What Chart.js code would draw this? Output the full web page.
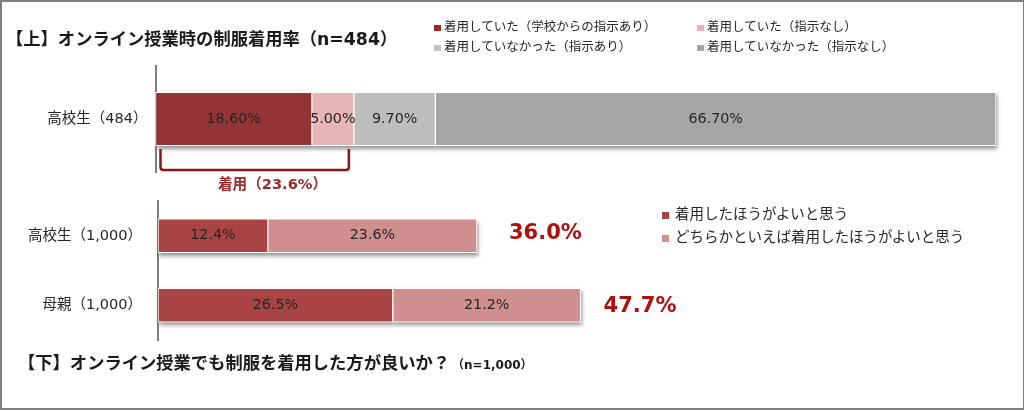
<!DOCTYPE html>
<html lang="ja"><head><meta charset="utf-8">
<script src="https://cdn.jsdelivr.net/npm/chart.js@4"></script>
<style>
html,body{margin:0;padding:0;background:#fff;overflow:hidden}
body{width:1024px;height:410px;position:relative;font-family:"DejaVu Sans","Noto Sans CJK JP",sans-serif;color:#262626}
#frame{position:absolute;left:0;top:0;width:1021px;height:406px;border:2px solid #7f7f7f;pointer-events:none}
canvas{position:absolute;left:0;top:0}
.t{position:absolute;white-space:nowrap;line-height:1;transform:translateY(-50%)}
.h{font-weight:700;font-size:17.3px;color:#1a1a1a}
.sq{position:absolute}
</style></head><body>
<canvas id="top" width="1024" height="410"></canvas>
<canvas id="bottom" width="1024" height="410"></canvas>
<div id="frame"></div>
<div class="t h" style="left:6px;top:40px">【上】オンライン授業時の制服着用率（n=484）</div>
<div class="t h" style="left:18px;top:364px">【下】オンライン授業でも制服を着用した方が良いか？<span style="font-size:12px;margin-left:2px">（n=1,000）</span></div>
<div class="t" style="left:218px;top:184px;font-size:14.6px;font-weight:700;color:#9c2a2a">着用（23.6%）</div>
<div id="legends"></div>
<script>
const topCategories = ["高校生（484）"];
const topSeriesNames = ["着用していた（学校からの指示あり）","着用していた（指示なし）","着用していなかった（指示あり）","着用していなかった（指示なし）"];
const topInstructed = [18.6];
const topNotInstructed = [5.0];
const topNotWornInstructed = [9.7];
const topNotWornNotInstructed = [66.7];
const topColors = ["#933535","#e6b5b5","#bdbdbd","#a5a5a5"];
const topLegendColors = ["#a02828","#ecb4b8","#c4c4c4","#a5a5a5"];

const bottomCategories = ["高校生（1,000）","母親（1,000）"];
const bottomSeriesNames = ["着用したほうがよいと思う","どちらかといえば着用したほうがよいと思う"];
const bottomShould = [12.4,26.5];
const bottomRather = [23.6,21.2];
const bottomTotals = ["36.0%","47.7%"];
const bottomColors = ["#a84444","#d08f8f"];

const FONT = '"DejaVu Sans","Noto Sans CJK JP",sans-serif';

const shadowPlugin = {
  id:'shadowPass',
  beforeDatasetsDraw(chart){
    const c = chart.ctx;
    chart.getSortedVisibleDatasetMetas().forEach(m=>m.data.forEach(el=>{
      const p = el.getProps(['x','y','base','height'],true);
      c.save();
      c.shadowColor='rgba(60,60,60,.55)';c.shadowBlur=4;c.shadowOffsetX=1;c.shadowOffsetY=3;
      c.fillStyle='#fff';
      c.fillRect(p.base,p.y-p.height/2,p.x-p.base,p.height);
      c.restore();
    }));
  }
};
const valueLabelPlugin = {
  id:'valueLabels',
  afterDatasetsDraw(chart,args,opts){
    const c = chart.ctx;
    c.save();
    c.font='14.3px '+FONT;c.fillStyle='#262626';c.textAlign='center';c.textBaseline='middle';
    chart.data.datasets.forEach((ds,i)=>{
      chart.getDatasetMeta(i).data.forEach((el,j)=>{
        const p = el.getProps(['x','y','base'],true);
        c.fillText(ds.data[j].toFixed(opts.decimals)+'%',(p.x+p.base)/2,p.y);
      });
    });
    c.restore();
  }
};
const totalsPlugin = {
  id:'totals',
  afterDatasetsDraw(chart,args,opts){
    if(!opts.labels) return;
    const c = chart.ctx, last = chart.getDatasetMeta(chart.data.datasets.length-1);
    c.save();
    c.font='bold 21px '+FONT;c.fillStyle='#b00f0f';c.textAlign='left';c.textBaseline='middle';
    last.data.forEach((el,j)=>c.fillText(opts.labels[j],el.x+opts.gaps[j],el.y+opts.dy[j]));
    c.restore();
  }
};
const bracketPlugin = {
  id:'bracket',
  afterDatasetsDraw(chart,args,opts){
    if(!opts.to) return;
    const c = chart.ctx, s = chart.scales.x;
    const x0 = s.getPixelForValue(0)+5, x1 = s.getPixelForValue(opts.to)-5;
    const y0 = 149, y1 = 170, r = 3;
    c.save();
    c.strokeStyle='#8e1414';c.lineWidth=2.5;
    c.beginPath();c.moveTo(x0,y0);c.lineTo(x0,y1-r);c.quadraticCurveTo(x0,y1,x0+r,y1);
    c.lineTo(x1-r,y1);c.quadraticCurveTo(x1,y1,x1,y1-r);c.lineTo(x1,y0);c.stroke();
    c.restore();
  }
};

function makeChart(id,cats,sets,names,colors,thick,xMax,pad,axisW,tickPad,decimals,extra){
  return new Chart(document.getElementById(id),{
    type:'bar',
    data:{labels:cats,datasets:sets.map((d,i)=>({label:names[i],data:d,backgroundColor:colors[i],borderColor:'#fff',borderWidth:1,borderSkipped:false,barThickness:thick}))},
    plugins:[shadowPlugin,valueLabelPlugin,totalsPlugin,bracketPlugin],
    options:{
      indexAxis:'y',responsive:false,animation:false,devicePixelRatio:1,
      layout:{padding:pad},
      scales:{
        x:{display:false,stacked:true,min:0,max:xMax},
        y:{stacked:true,grid:{display:false,drawTicks:false},
           border:{display:true,color:'#7f7f7f',width:2},
           ticks:{color:'#262626',font:{family:FONT,size:14.5},padding:tickPad},
           afterFit(s){s.width=axisW;}}
      },
      plugins:Object.assign({legend:{display:false},tooltip:{enabled:false},valueLabels:{decimals}},extra)
    }
  });
}
makeChart('top',topCategories,[topInstructed,topNotInstructed,topNotWornInstructed,topNotWornNotInstructed],topSeriesNames,topColors,53.5,100,
  {left:0,top:66,right:28,bottom:238},155.5,8,2,{bracket:{to:23.6}});
makeChart('bottom',bottomCategories,[bottomShould,bottomRather],bottomSeriesNames,bottomColors,34,90,
  {left:0,top:201,right:68.6,bottom:70},158,16,1,{totals:{labels:bottomTotals,gaps:[32,23],dy:[-2.5,1]}});

function legendItem(text,color,sqX,textX,y,size,fs){
  const host=document.getElementById('legends');
  const s=document.createElement('div');s.className='sq';
  s.style.cssText=`left:${sqX}px;top:${y-size/2+1}px;width:${size}px;height:${size}px;background:${color}`;
  const t=document.createElement('div');t.className='t';t.textContent=text;
  t.style.cssText=`left:${textX}px;top:${y}px;font-size:${fs}px`;
  host.append(s,t);
}
legendItem(topSeriesNames[0],topLegendColors[0],434,444,27,6.5,12.5);
legendItem(topSeriesNames[1],topLegendColors[1],697,707,27,6.5,12.5);
legendItem(topSeriesNames[2],topLegendColors[2],434,444,47,6.5,12.5);
legendItem(topSeriesNames[3],topLegendColors[3],697,707,47,6.5,12.5);
legendItem(bottomSeriesNames[0],bottomColors[0],662,675,214,7,14.5);
legendItem(bottomSeriesNames[1],bottomColors[1],662,675,237,7,14.5);
</script>
</body></html>
